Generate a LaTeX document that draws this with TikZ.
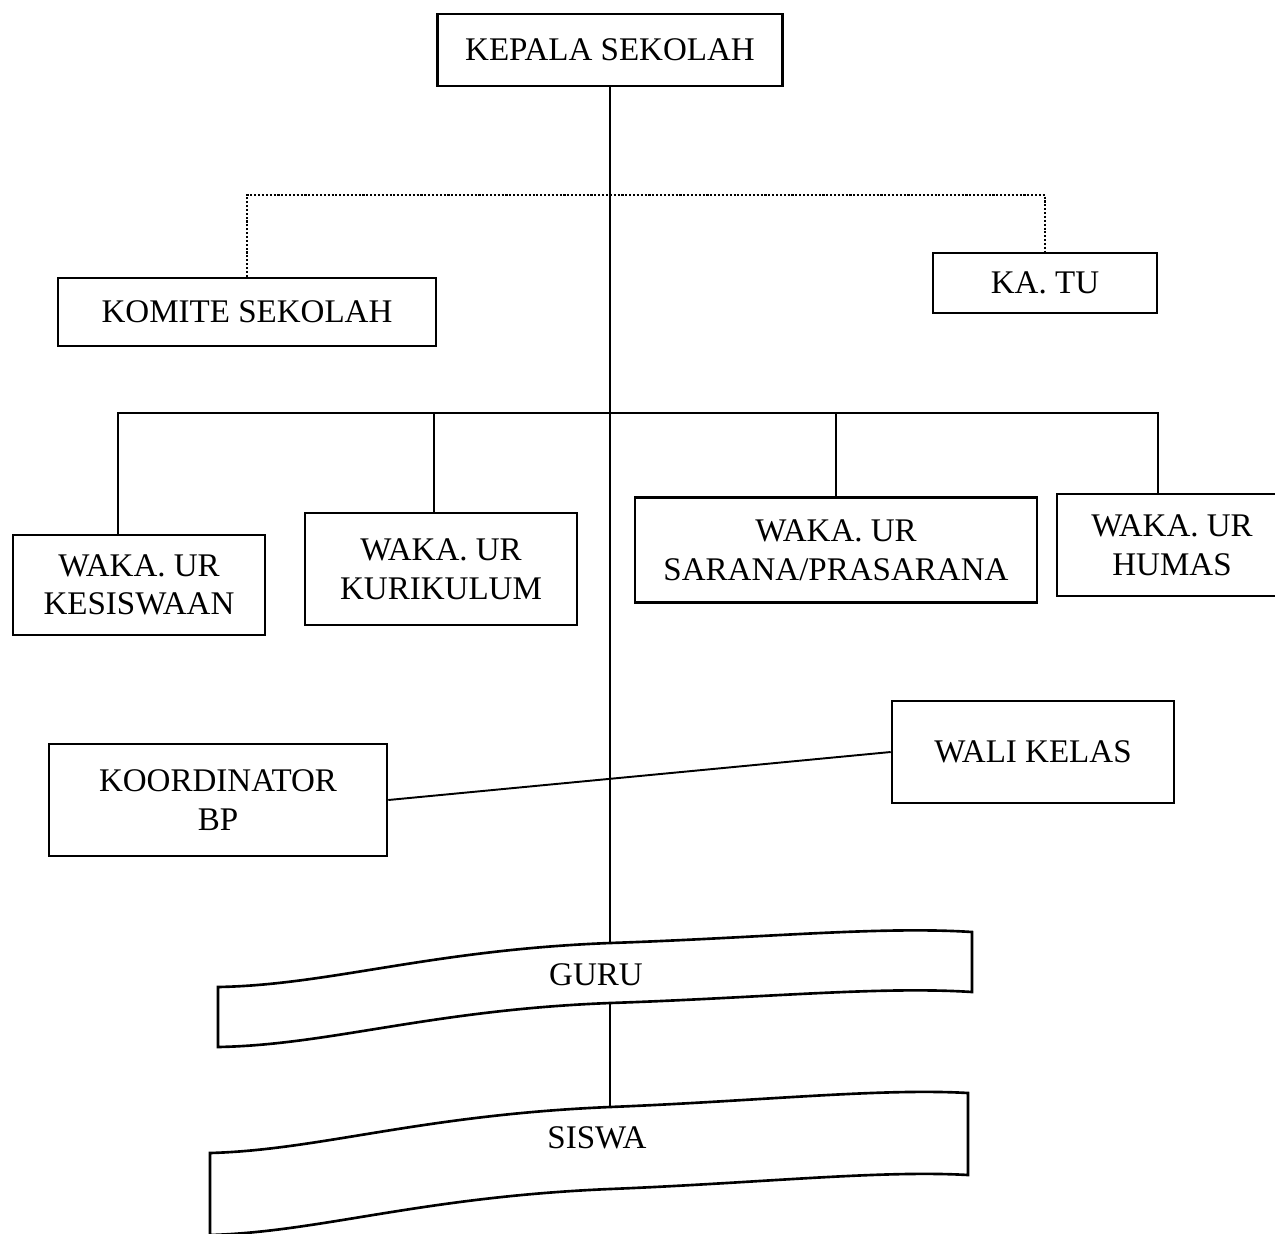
\documentclass[tikz,border=0pt]{standalone}
\usepackage{fontspec}
\setmainfont{Liberation Serif}
\begin{document}
\begin{tikzpicture}[x=0.02cm,y=-0.02cm,
  box/.style={draw, line width=1.5pt, align=center, font=\fontsize{18.8}{22}\selectfont, inner sep=0pt},
  lbl/.style={align=center, font=\fontsize{18.8}{22}\selectfont, inner sep=0pt},
  wave/.style={draw, line width=1.5pt},
  conn/.style={line width=1.1pt},
  dotconn/.style={line width=1.2pt, densely dotted}]
\useasboundingbox (0,0) rectangle (1275,1234);

% boxes
\node[box, minimum width=6.9cm, minimum height=1.44cm] (kepala) at (610,50) {KEPALA SEKOLAH};
\node[box, minimum width=7.56cm, minimum height=1.36cm] (komite) at (247,312) {KOMITE SEKOLAH};
\node[box, minimum width=4.48cm, minimum height=1.2cm] (katu) at (1045,283) {KA. TU};
\node[box, minimum width=5.04cm, minimum height=2.0cm] (kes) at (139,585) {WAKA. UR\\KESISWAAN};
\node[box, minimum width=5.44cm, minimum height=2.24cm] (kur) at (441,569) {WAKA. UR\\KURIKULUM};
\node[box, minimum width=8.04cm, minimum height=2.1cm] (sar) at (836,550) {WAKA. UR\\SARANA/PRASARANA};
\node[box, minimum width=4.6cm, minimum height=2.04cm] (hum) at (1172,545) {WAKA. UR\\HUMAS};
\node[box, minimum width=6.76cm, minimum height=2.24cm] (koord) at (218,800) {KOORDINATOR\\BP};
\node[box, minimum width=5.64cm, minimum height=2.04cm] (wali) at (1033,752) {WALI KELAS};

% wave banners
\draw[wave] (218,987) .. controls (330,985) and (430,950) .. (610,943)
  .. controls (760,938) and (880,926) .. (972,932) -- (972,992)
  .. controls (880,986) and (760,998) .. (610,1003)
  .. controls (430,1010) and (330,1045) .. (218,1047) -- cycle;
\node[lbl] (guru) at (596,975) {GURU};
\draw[wave] (210,1153) .. controls (320,1150) and (420,1115) .. (610,1107)
  .. controls (760,1101) and (880,1088) .. (968,1093) -- (968,1175)
  .. controls (880,1170) and (760,1183) .. (610,1189)
  .. controls (420,1197) and (320,1232) .. (210,1235) -- cycle;
\node[lbl] (siswa) at (597,1138) {SISWA};

\coordinate (gt) at (610,943);
\coordinate (gb) at (610,1003);
\coordinate (st) at (610,1107);
\coordinate (dt) at (610,195);
\coordinate (bar) at (610,413);

% connectors
\draw[conn] (kepala.south) -- (gt);
\draw[conn] (gb) -- (st);
\draw[dotconn] (komite.north) |- (dt) -| (katu.north);
\draw[conn] ([xshift=-0.42cm]kes.north) |- (bar) -| ([xshift=-0.28cm]hum.north);
\draw[conn] ([xshift=-0.14cm]kur.north) -- ([xshift=-0.14cm]kur.north |- bar);
\draw[conn] (sar.north) -- (sar.north |- bar);
\draw[conn] (koord.east) -- (wali.west);
\end{tikzpicture}
\end{document}
